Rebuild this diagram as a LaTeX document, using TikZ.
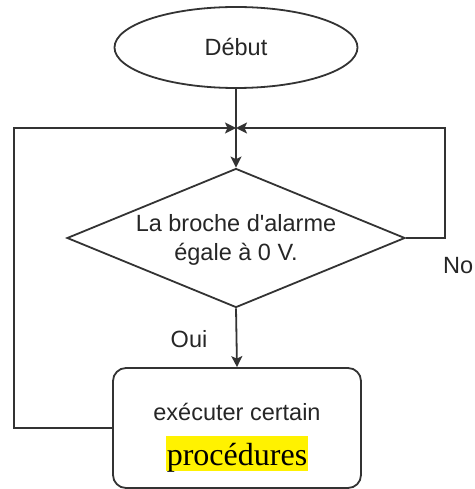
\documentclass[tikz,border=0pt]{standalone}
\usepackage{fontspec}
\setmainfont{Liberation Sans}
\newfontfamily\timesfont{Liberation Serif}
\usetikzlibrary{shapes.geometric,arrows.meta}
\begin{document}
\begin{tikzpicture}[x=1pt,y=-1pt,
  line/.style={draw=black!80,line width=1.8pt},
  arr/.style={line,-{Stealth[length=11pt,width=11pt,inset=2.5pt]}},
  lbl/.style={font=\fontsize{23.5}{29}\selectfont,text=black!85,inner sep=0pt},
  startnode/.style={ellipse,line,minimum width=243pt,minimum height=81pt,inner sep=0pt},
  decision/.style={diamond,line,minimum width=338pt,minimum height=139pt,inner sep=0pt},
  procbox/.style={rectangle,rounded corners=13pt,line,minimum width=248pt,minimum height=120pt,inner sep=0pt}]
\useasboundingbox (0,0) rectangle (474,489);
\node[startnode] (debut) at (236,47.5) {};
\node[lbl] (debuttext) at (236,46.5) {Début};
\node[decision] (diam) at (236,238) {};
\node[lbl,align=center] (diamtext) at (236,240) {La broche d\textquotesingle alarme\\égale à 0 V.};
\node[procbox] (proc) at (237,428) {};
\node[lbl,anchor=base] (proc1) at (237,420) {exécuter certain};
\node[anchor=base,fill=yellow,inner xsep=0.5pt,inner ysep=0pt,text height=29pt,text depth=6pt,font=\timesfont\fontsize{32}{36}\selectfont] (proc2) at (237,465) {procédures};
\coordinate (j) at (236,128);
\coordinate (lc) at (14,128);
\coordinate (rc) at (445,128);
\draw[arr] (debut.south) -- (diam.north);
\draw[arr] (proc.west) -| (lc) -- (j);
\draw[arr] (diam.east) -| (rc) -- (j);
\draw[arr] (diam.south) -- (proc.north);
\node[lbl] (oui) at (189,339) {Oui};
\node[lbl,anchor=west] (no) at (443,266) {No};
\end{tikzpicture}
\end{document}
